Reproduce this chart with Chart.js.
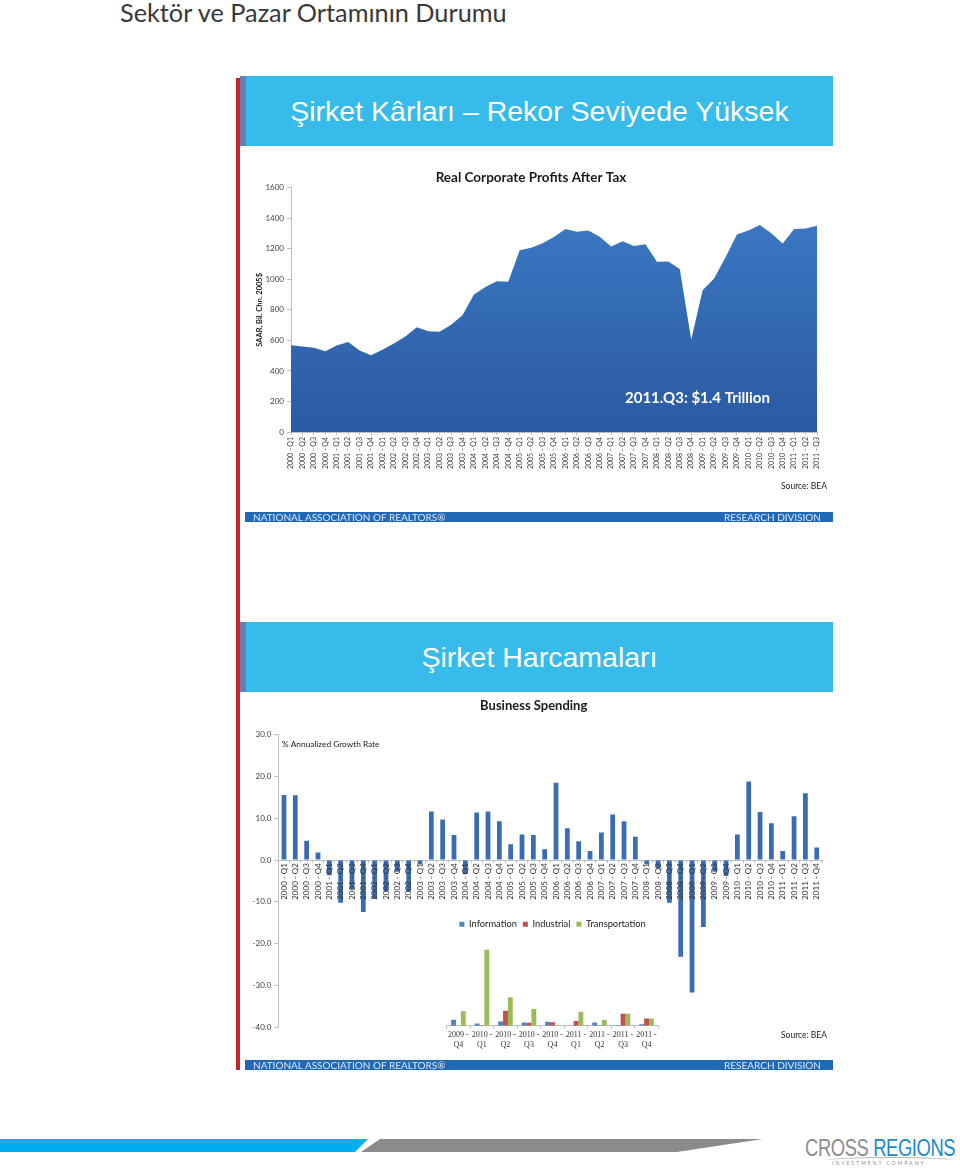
<!DOCTYPE html>
<html>
<head>
<meta charset="utf-8">
<script src="https://cdn.jsdelivr.net/npm/chart.js@4.4.0/dist/chart.umd.min.js"></script>
<style>
  html, body { margin: 0; padding: 0; background: #fff; }
  body { width: 960px; height: 1169px; position: relative; overflow: hidden; font-family: Lato, sans-serif; }
  .abs { position: absolute; }
  #pageTitle { left: 120px; top: -3px; font-size: 25.3px; color: #383838; white-space: nowrap; }
  #redLine { left: 236px; top: 78px; width: 4px; height: 992px; background: #c1272d; }
  .strip { left: 240px; width: 6px; height: 70px; background: #6c7db0; }
  .banner { left: 246px; width: 587px; height: 70px; background: #36bbea; color: #fff;
            font-family: "Liberation Sans", Arial, sans-serif; font-size: 28.5px; text-align: center; line-height: 70px; white-space: nowrap; }
  .nar { left: 245px; width: 588px; height: 10px; background: #2168b5; color: #dfe8f4; font-size: 10px; line-height: 11px; }
  .nar span { position: absolute; top: 0; }
  canvas { position: absolute; }
  #cyanStripe { left: 0; top: 1139px; width: 368px; height: 13px; background: #00aeef;
                clip-path: polygon(0 0, 100% 0, calc(100% - 13px) 100%, 0 100%); }
  #grayStripe { left: 355px; top: 1139px; width: 408px; height: 13px; background: #8b8b8b;
                clip-path: polygon(25px 0, 100% 0, 322px 100%, 6px 100%); }
  #logo { left: 805px; top: 1135px; font-family: "Liberation Sans", Arial, sans-serif; font-size: 23px; white-space: nowrap;
          letter-spacing: -0.5px; transform: scaleX(0.8); transform-origin: 0 0; }
  #logo .c { color: #8a8c8f; }
  #logo .r { color: #1b8bc9; }
  #logoSub { left: 832px; top: 1160px; font-size: 5px; letter-spacing: 2px; color: #8a8c8f; white-space: nowrap; }
  #logoArc { left: 826px; top: 1157px; width: 128px; height: 6px; border-top: 1px solid #b5b7ba; border-radius: 60% 60% 0 0; }
</style>
</head>
<body>
<div id="pageTitle" class="abs">Sektör ve Pazar Ortamının Durumu</div>

<div id="redLine" class="abs"></div>
<div class="abs strip" style="top:76px"></div>
<div class="abs strip" style="top:622px"></div>

<div class="abs banner" style="top:76px">Şirket Kârları – Rekor Seviyede Yüksek</div>
<canvas id="profitChart" width="588" height="366" style="left:245px;top:146px"></canvas>
<div class="abs nar" style="top:512px"><span style="left:8px">NATIONAL ASSOCIATION OF REALTORS®</span><span style="right:12px">RESEARCH DIVISION</span></div>

<div class="abs banner" style="top:622px">Şirket Harcamaları</div>
<canvas id="spendChart" width="588" height="368" style="left:245px;top:692px"></canvas>
<canvas id="insetChart" width="226" height="142" style="left:440px;top:912px"></canvas>
<div class="abs nar" style="top:1060px"><span style="left:8px">NATIONAL ASSOCIATION OF REALTORS®</span><span style="right:12px">RESEARCH DIVISION</span></div>

<div id="cyanStripe" class="abs"></div>
<div id="grayStripe" class="abs"></div>
<div id="logo" class="abs"><span class="c">CROSS</span> <span class="r">REGIONS</span></div>
<div id="logoArc" class="abs"></div>
<div id="logoSub" class="abs">INVESTMENT COMPANY</div>

<script>
// Real Corporate Profits After Tax (SAAR, Bil. Chn. 2005$)
const profitQuarters = [
  "2000 - Q1","2000 - Q2","2000 - Q3","2000 - Q4",
  "2001 - Q1","2001 - Q2","2001 - Q3","2001 - Q4",
  "2002 - Q1","2002 - Q2","2002 - Q3","2002 - Q4",
  "2003 - Q1","2003 - Q2","2003 - Q3","2003 - Q4",
  "2004 - Q1","2004 - Q2","2004 - Q3","2004 - Q4",
  "2005 - Q1","2005 - Q2","2005 - Q3","2005 - Q4",
  "2006 - Q1","2006 - Q2","2006 - Q3","2006 - Q4",
  "2007 - Q1","2007 - Q2","2007 - Q3","2007 - Q4",
  "2008 - Q1","2008 - Q2","2008 - Q3","2008 - Q4",
  "2009 - Q1","2009 - Q2","2009 - Q3","2009 - Q4",
  "2010 - Q1","2010 - Q2","2010 - Q3","2010 - Q4",
  "2011 - Q1","2011 - Q2","2011 - Q3"
];
const profitValues = [
  568, 560, 551, 529, 566, 590, 533, 503, 538, 579, 625, 686,
  660, 656, 702, 765, 901, 949, 988, 984, 1191, 1207, 1237, 1277,
  1329, 1312, 1320, 1279, 1215, 1250, 1218, 1229, 1115, 1117, 1067, 606,
  929, 1006, 1145, 1294, 1320, 1355, 1301, 1235, 1329, 1333, 1351
];
const profitTicks = [0, 200, 400, 600, 800, 1000, 1200, 1400, 1600];
const profitNote = "2011.Q3: $1.4 Trillion";

// Business Spending, % annualized growth rate
const spendQuarters = [
  "2000 - Q1","2000 - Q2","2000 - Q3","2000 - Q4",
  "2001 - Q1","2001 - Q2","2001 - Q3","2001 - Q4",
  "2002 - Q1","2002 - Q2","2002 - Q3","2002 - Q4",
  "2003 - Q1","2003 - Q2","2003 - Q3","2003 - Q4",
  "2004 - Q1","2004 - Q2","2004 - Q3","2004 - Q4",
  "2005 - Q1","2005 - Q2","2005 - Q3","2005 - Q4",
  "2006 - Q1","2006 - Q2","2006 - Q3","2006 - Q4",
  "2007 - Q1","2007 - Q2","2007 - Q3","2007 - Q4",
  "2008 - Q1","2008 - Q2","2008 - Q3","2008 - Q4",
  "2009 - Q1","2009 - Q2","2009 - Q3","2009 - Q4",
  "2010 - Q1","2010 - Q2","2010 - Q3","2010 - Q4",
  "2011 - Q1","2011 - Q2","2011 - Q3","2011 - Q4"
];
const spendValues = [
  15.6, 15.5, 4.6, 1.8, -3.6, -10.2, -7.0, -12.4,
  -9.3, -7.5, -2.8, -7.5, -1.0, 11.6, 9.7, 6.0,
  -3.4, 11.4, 11.6, 9.3, 3.8, 6.1, 6.0, 2.6,
  18.5, 7.6, 4.5, 2.2, 6.6, 10.9, 9.3, 5.6,
  -1.0, -2.0, -10.2, -23.1, -31.7, -16.0, -2.8, -3.8,
  6.1, 18.8, 11.5, 8.8, 2.2, 10.5, 16.0, 3.0
];

// small inset: spending by sector
const insetQuarters = [
  ["2009 -","Q4"], ["2010 -","Q1"], ["2010 -","Q2"], ["2010 -","Q3"], ["2010 -","Q4"],
  ["2011 -","Q1"], ["2011 -","Q2"], ["2011 -","Q3"], ["2011 -","Q4"]
];
const infoValues  = [3.4, 1.2, 2.4, 1.8, 2.2, 0.0, 1.8, 0.4, 0.8];
const indValues   = [0.0, 0.2, 8.4, 1.6, 2.0, 2.6, 0.2, 6.8, 4.0];
const transValues = [8.2, 42.8, 16.0, 9.4, 0.2, 7.8, 3.2, 6.8, 4.0];

Chart.defaults.font.family = "Lato";
Chart.defaults.color = "#404040";

const axisGray = "#bfbfbf";

const profitText = {
  id: "profitText",
  afterDraw(chart) {
    const c = chart.ctx;
    c.save();
    c.fillStyle = "#fff";
    c.font = "bold 15px Lato";
    c.textAlign = "left";
    c.textBaseline = "middle";
    c.fillText(profitNote, 380, 252);
    c.fillStyle = "#222";
    c.font = "8.5px Lato";
    c.textAlign = "right";
    c.fillText("Source: BEA", 582, 340);
    c.restore();
  }
};

new Chart(document.getElementById("profitChart"), {
  type: "line",
  data: {
    labels: profitQuarters,
    datasets: [{
      data: profitValues,
      fill: "origin",
      borderWidth: 0,
      pointRadius: 0,
      tension: 0,
      backgroundColor(ctx) {
        const area = ctx.chart.chartArea;
        if (!area) return "#3569b3";
        const g = ctx.chart.ctx.createLinearGradient(0, area.top, 0, area.bottom);
        g.addColorStop(0, "#3e7cc7");
        g.addColorStop(1, "#2a5aa3");
        return g;
      }
    }]
  },
  options: {
    responsive: false,
    animation: false,
    layout: { padding: { left: 0, right: 16, top: 0, bottom: 0 } },
    plugins: {
      legend: { display: false },
      tooltip: { enabled: false },
      title: {
        display: true,
        text: "Real Corporate Profits After Tax",
        color: "#1a1a1a",
        font: { size: 13.5, weight: "bold" },
        padding: { top: 24, bottom: 1.5 }
      }
    },
    scales: {
      x: {
        grid: { drawOnChartArea: false, tickLength: 3, color: axisGray },
        border: { color: axisGray },
        ticks: { autoSkip: false, maxRotation: 90, minRotation: 90, padding: 2, font: { size: 7 } },
        afterFit(s) { s.height = 80; }
      },
      y: {
        min: 0, max: 1600,
        afterBuildTicks(s) { s.ticks = profitTicks.map(v => ({ value: v })); },
        grid: { drawOnChartArea: false, tickLength: 4, color: axisGray },
        border: { color: axisGray },
        ticks: { padding: 3, font: { size: 8 }, callback: v => String(v) },
        title: { display: true, text: "SAAR, Bil. Chn. 2005$", color: "#222",
                 font: { size: 7.5, weight: "bold" }, padding: { top: 10, bottom: 0 } },
        afterFit(s) { s.width = 46; }
      }
    }
  },
  plugins: [profitText]
});

const spendText = {
  id: "spendText",
  afterDraw(chart) {
    const c = chart.ctx;
    c.save();
    c.fillStyle = "#222";
    c.font = "8.3px Lato";
    c.textAlign = "left";
    c.textBaseline = "middle";
    c.fillText("% Annualized Growth Rate", 37, 52);
    c.font = "8.5px Lato";
    c.textAlign = "right";
    c.fillText("Source: BEA", 582, 343);
    c.restore();
  }
};

new Chart(document.getElementById("spendChart"), {
  type: "bar",
  data: {
    labels: spendQuarters,
    datasets: [{
      data: spendValues,
      backgroundColor: "#3a6cb4",
      barPercentage: 0.42,
      categoryPercentage: 1
    }]
  },
  options: {
    responsive: false,
    animation: false,
    layout: { padding: { left: 0, right: 10.6, top: 0, bottom: 32.7 } },
    plugins: {
      legend: { display: false },
      tooltip: { enabled: false },
      title: {
        display: true,
        text: "Business Spending",
        color: "#1a1a1a",
        font: { size: 13, weight: "bold" },
        padding: { top: 6.2, bottom: 20.9 }
      }
    },
    scales: {
      x: {
        position: { y: 0 },
        grid: { drawOnChartArea: false, tickLength: 2, color: axisGray },
        border: { color: axisGray },
        ticks: { autoSkip: false, maxRotation: 90, minRotation: 90, padding: 1, z: 1, color: "#333", font: { size: 8 } }
      },
      y: {
        min: -40, max: 30,
        ticks: { stepSize: 10, padding: 3, font: { size: 8 }, callback: v => v.toFixed(1) },
        grid: { drawOnChartArea: false, tickLength: 4, color: axisGray },
        border: { color: axisGray },
        afterFit(s) { s.width = 33.3; }
      }
    }
  },
  plugins: [spendText]
});

new Chart(document.getElementById("insetChart"), {
  type: "bar",
  data: {
    labels: insetQuarters,
    datasets: [
      { label: "Information", data: infoValues, backgroundColor: "#4f81bd" },
      { label: "Industrial", data: indValues, backgroundColor: "#c0504d" },
      { label: "Transportation", data: transValues, backgroundColor: "#9bbb59" }
    ]
  },
  options: {
    responsive: false,
    animation: false,
    datasets: { bar: { barPercentage: 1, categoryPercentage: 0.62 } },
    layout: { padding: { left: 6.7, right: 7.7, top: 1.5, bottom: 0 } },
    plugins: {
      tooltip: { enabled: false },
      legend: {
        display: true,
        labels: { boxWidth: 5, boxHeight: 5, padding: 6, color: "#222", font: { size: 9.3 } }
      }
    },
    scales: {
      x: {
        grid: { drawOnChartArea: false, tickLength: 3, color: axisGray },
        border: { color: axisGray },
        ticks: { autoSkip: false, maxRotation: 0, padding: 2, color: "#333",
                 font: { family: "Liberation Serif", size: 8, lineHeight: 1.15 } },
        afterFit(s) { s.height = 28.3; }
      },
      y: { display: false, min: 0, max: 49 }
    }
  }
});
</script>
</body>
</html>
